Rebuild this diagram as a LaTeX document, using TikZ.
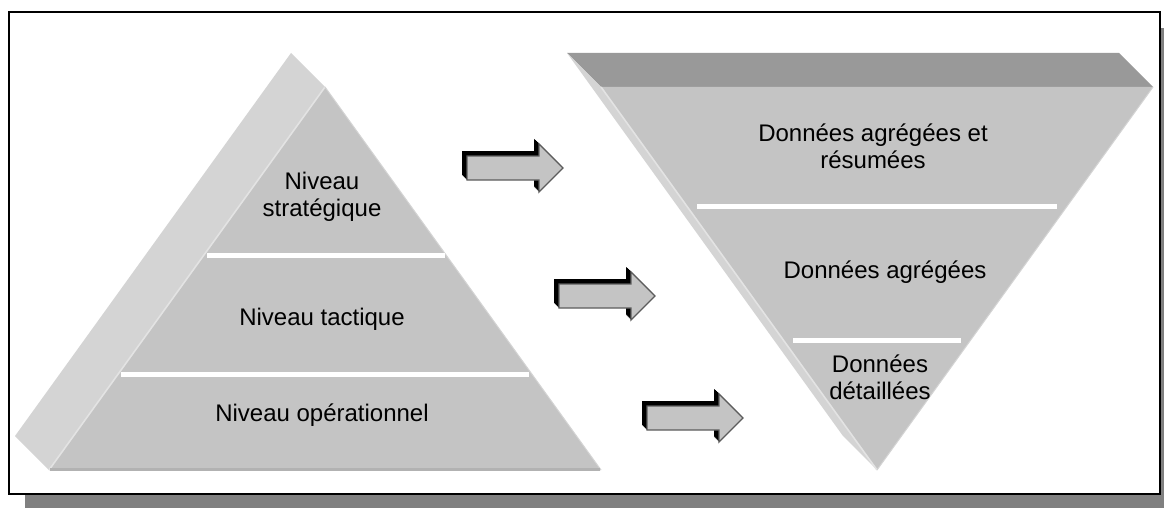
\documentclass[tikz,border=0pt]{standalone}
\usepackage{fontspec}
\setmainfont{Liberation Sans}
\definecolor{facegray}{gray}{0.768}
\definecolor{sidegray}{gray}{0.83}
\definecolor{topgray}{gray}{0.60}
\definecolor{edgelight}{gray}{0.89}
\definecolor{edgedark}{gray}{0.70}
\definecolor{shadowgray}{gray}{0.50}
\definecolor{arrowfill}{gray}{0.77}
\definecolor{arrowedge}{gray}{0.36}
\begin{document}
\begin{tikzpicture}[x=1pt,y=-1pt,
  lbl/.style={font=\fontsize{24}{27}\selectfont, align=center, text=black, inner sep=0pt},
  front/.style={fill=facegray},
  side/.style={fill=sidegray},
  topface/.style={fill=topgray},
  ridge/.style={draw=edgelight, line width=1.6},
  divider/.style={fill=white},
  blockarrow/.pic={
    % extruded dark body, then the lit front face
    \foreach \k in {5,4.5,...,0.5}
      \fill[black, shift={(-\k,-\k)}] (-96,-12) -- (-24,-12) -- (-24,-24) -- (0,0)
        -- (-24,24) -- (-24,12) -- (-96,12) -- cycle;
    \filldraw[fill=arrowfill, draw=arrowedge, line width=1.3, line join=miter]
      (-96,-12) -- (-24,-12) -- (-24,-24) -- (0,0)
      -- (-24,24) -- (-24,12) -- (-96,12) -- cycle;
  }]
\useasboundingbox (0,0) rectangle (1164,508);

% framed panel with drop shadow
\fill[shadowgray] (25,28) rectangle (1164,508);
\fill[white] (9,12) rectangle (1160,494);
\draw[line width=2.2] (9,12) rectangle (1160,494);

% pyramid of management levels
\fill[side] (291,53) -- (325,87) -- (49,470) -- (15,436) -- cycle;
\fill[front] (325,87) -- (601,470) -- (49,470) -- cycle;
\draw[ridge] (325,87) -- (49,470);
\draw[draw=sidegray, line width=1] (325,87) -- (601,470);
\draw[draw=edgedark, line width=3] (50,469.5) -- (600,469.5);
\fill[divider] (207,253) rectangle (445,257.5);
\fill[divider] (121,372) rectangle (529,376.5);

\node[lbl] (strat) at (322,196.5) {Niveau\\stratégique};
\node[lbl] (tact) at (322,319) {Niveau tactique};
\node[lbl] (oper) at (322,415) {Niveau opérationnel};

% inverted pyramid of data granularity
\fill[topface] (567,53) -- (1119,53) -- (1153,87) -- (601,87) -- cycle;
\fill[side] (567,53) -- (601,87) -- (877,470) -- (843,436) -- cycle;
\fill[front] (601,87) -- (1153,87) -- (877,470) -- cycle;
\draw[ridge] (601,87) -- (877,470);
\draw[draw=sidegray, line width=1] (1153,87) -- (877,470);
\fill[divider] (697,204) rectangle (1057,208.5);
\fill[divider] (793,338) rectangle (961,342.5);

\node[lbl] (agres) at (873,146) {Données agrégées et\\résumées};
\node[lbl] (agr) at (885,272) {Données agrégées};
\node[lbl] (det) at (880,377.5) {Données\\détaillées};

% block arrows linking each level to its data
\pic (arrA) at (563,168) {blockarrow};
\pic (arrB) at (655,296) {blockarrow};
\pic (arrC) at (743,418) {blockarrow};
\end{tikzpicture}
\end{document}
